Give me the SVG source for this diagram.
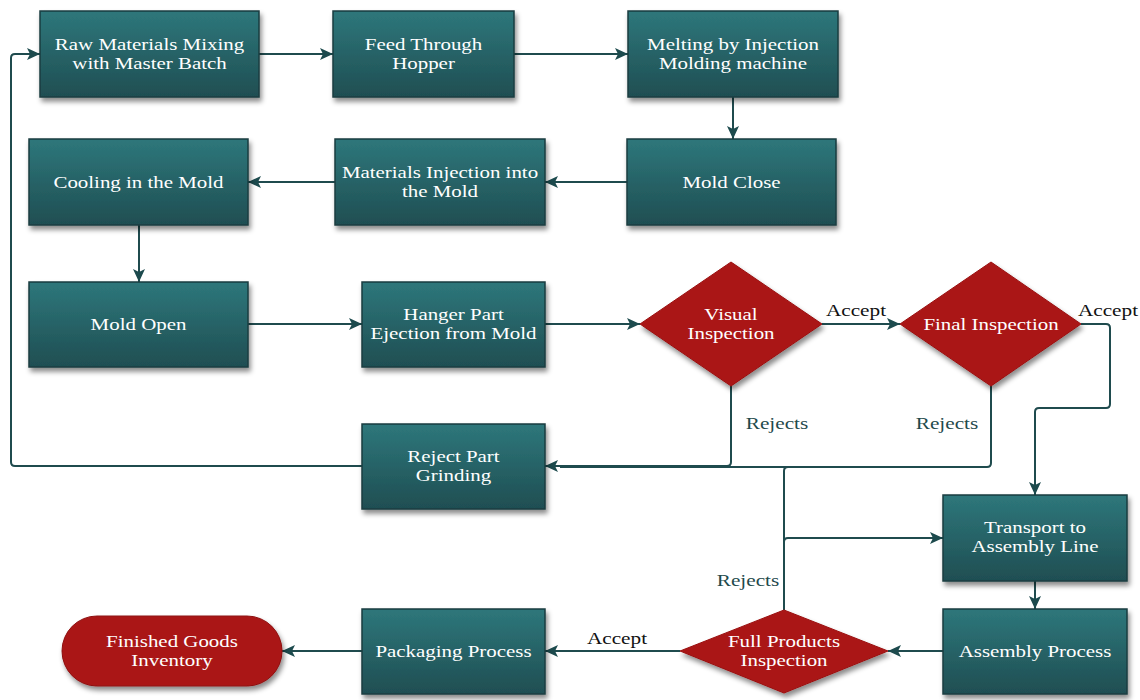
<svg xmlns="http://www.w3.org/2000/svg" width="1140" height="700" viewBox="0 0 1140 700">
<defs>
<linearGradient id="boxg" x1="0" y1="0" x2="0" y2="1">
<stop offset="0" stop-color="#2e777b"/>
<stop offset="1" stop-color="#1f4e52"/>
</linearGradient>
<filter id="sh" x="-10%" y="-10%" width="130%" height="140%">
<feDropShadow dx="2" dy="4" stdDeviation="2.5" flood-color="#000" flood-opacity="0.45"/>
</filter>
<marker id="arr" markerUnits="userSpaceOnUse" markerWidth="14" markerHeight="12" refX="13" refY="6" orient="auto">
<path d="M0,0 L13,6 L0,12 L3,6 Z" fill="#1c4a4d"/>
</marker>
<style>
.box{fill:url(#boxg);stroke:#1b3d40;stroke-width:1.5;filter:url(#sh)}
.dia{fill:#aa1515;stroke:#9a1212;stroke-width:1;filter:url(#sh)}
.t{font-family:'Liberation Serif','DejaVu Serif',serif;font-size:17px;fill:#ffffff;text-anchor:middle}
.c{fill:none;stroke:#1f4b4e;stroke-width:2;stroke-linejoin:round}
.lab{font-family:'Liberation Serif','DejaVu Serif',serif;font-size:17px;text-anchor:middle}
.acc{fill:#111111}
.rej{fill:#1f4a4c}
</style>
</defs>
<rect width="1140" height="700" fill="#ffffff"/>

<g id="connectors">
<path class="c" d="M259,54 H333" marker-end="url(#arr)"/>
<path class="c" d="M514,54 H628" marker-end="url(#arr)"/>
<path class="c" d="M733,97 V139" marker-end="url(#arr)"/>
<path class="c" d="M627,182 H545" marker-end="url(#arr)"/>
<path class="c" d="M335,182 H248" marker-end="url(#arr)"/>
<path class="c" d="M139,225 V282" marker-end="url(#arr)"/>
<path class="c" d="M248,324 H362" marker-end="url(#arr)"/>
<path class="c" d="M545,324 H640" marker-end="url(#arr)"/>
<path class="c" d="M822,324 H900" marker-end="url(#arr)"/>
<path class="c" d="M1081,324 H1106 Q1110,324 1110,328 V404 Q1110,408 1106,408 H1039 Q1035,408 1035,412 V495" marker-end="url(#arr)"/>
<path class="c" d="M991,386 V463 Q991,467 987,467 H788 Q784,467 784,471 V610"/>
<path class="c" d="M788,467 H560"/>
<path class="c" d="M784,542 Q784,538 788,538 H943" marker-end="url(#arr)"/>
<path class="c" d="M731,386 V462 Q731,466 727,466 H545" marker-end="url(#arr)"/>
<path class="c" d="M362,466 H15 Q11,466 11,462 V58 Q11,54 15,54 H40" marker-end="url(#arr)"/>
<path class="c" d="M1035,581 V609" marker-end="url(#arr)"/>
<path class="c" d="M943,651 H888" marker-end="url(#arr)"/>
<path class="c" d="M680,651 H545" marker-end="url(#arr)"/>
<path class="c" d="M362,651 H282" marker-end="url(#arr)"/>
<text class="lab acc" transform="matrix(1.25 0 0 1 856 316)">Accept</text>
<text class="lab acc" transform="matrix(1.25 0 0 1 1108 316)">Accept</text>
<text class="lab rej" transform="matrix(1.25 0 0 1 777 429)">Rejects</text>
<text class="lab rej" transform="matrix(1.25 0 0 1 947 429)">Rejects</text>
<text class="lab rej" transform="matrix(1.25 0 0 1 748 586)">Rejects</text>
<text class="lab acc" transform="matrix(1.25 0 0 1 617 644)">Accept</text>
</g>

<g id="n-raw">
<rect class="box" x="40" y="11" width="219" height="86"/>
<text class="t" transform="matrix(1.23 0 0 1 149.5 50)">Raw Materials Mixing</text>
<text class="t" transform="matrix(1.23 0 0 1 149.5 69)">with Master Batch</text>
</g>
<g id="n-feed">
<rect class="box" x="333" y="11" width="181" height="86"/>
<text class="t" transform="matrix(1.23 0 0 1 423.5 50)">Feed Through</text>
<text class="t" transform="matrix(1.23 0 0 1 423.5 69)">Hopper</text>
</g>
<g id="n-melt">
<rect class="box" x="628" y="11" width="210" height="86"/>
<text class="t" transform="matrix(1.23 0 0 1 733 50)">Melting by Injection</text>
<text class="t" transform="matrix(1.23 0 0 1 733 69)">Molding machine</text>
</g>
<g id="n-cool">
<rect class="box" x="29" y="139" width="219" height="86"/>
<text class="t" transform="matrix(1.23 0 0 1 138.5 188)">Cooling in the Mold</text>
</g>
<g id="n-inject">
<rect class="box" x="335" y="139" width="210" height="86"/>
<text class="t" transform="matrix(1.23 0 0 1 440 178)">Materials Injection into</text>
<text class="t" transform="matrix(1.23 0 0 1 440 197)">the Mold</text>
</g>
<g id="n-close">
<rect class="box" x="627" y="139" width="209" height="86"/>
<text class="t" transform="matrix(1.23 0 0 1 731.5 188)">Mold Close</text>
</g>
<g id="n-open">
<rect class="box" x="29" y="282" width="219" height="85"/>
<text class="t" transform="matrix(1.23 0 0 1 138.5 330)">Mold Open</text>
</g>
<g id="n-hanger">
<rect class="box" x="362" y="282" width="183" height="85"/>
<text class="t" transform="matrix(1.23 0 0 1 453.5 320)">Hanger Part</text>
<text class="t" transform="matrix(1.23 0 0 1 453.5 339)">Ejection from Mold</text>
</g>
<g id="n-visual">
<polygon class="dia" points="731,262 822,324 731,386 640,324"/>
<text class="t" transform="matrix(1.23 0 0 1 731 320)">Visual</text>
<text class="t" transform="matrix(1.23 0 0 1 731 339)">Inspection</text>
</g>
<g id="n-final">
<polygon class="dia" points="991,262 1081,324 991,386 900,324"/>
<text class="t" transform="matrix(1.23 0 0 1 991 330)">Final Inspection</text>
</g>
<g id="n-grind">
<rect class="box" x="362" y="424" width="183" height="85"/>
<text class="t" transform="matrix(1.23 0 0 1 453.5 462)">Reject Part</text>
<text class="t" transform="matrix(1.23 0 0 1 453.5 481)">Grinding</text>
</g>
<g id="n-transport">
<rect class="box" x="943" y="495" width="184" height="86"/>
<text class="t" transform="matrix(1.23 0 0 1 1035 533)">Transport to</text>
<text class="t" transform="matrix(1.23 0 0 1 1035 552)">Assembly Line</text>
</g>
<g id="n-assembly">
<rect class="box" x="943" y="609" width="184" height="85"/>
<text class="t" transform="matrix(1.23 0 0 1 1035 657)">Assembly Process</text>
</g>
<g id="n-full">
<polygon class="dia" points="784,610 888,651 784,693 680,651"/>
<text class="t" transform="matrix(1.23 0 0 1 784 647)">Full Products</text>
<text class="t" transform="matrix(1.23 0 0 1 784 666)">Inspection</text>
</g>
<g id="n-pack">
<rect class="box" x="362" y="609" width="183" height="85"/>
<text class="t" transform="matrix(1.23 0 0 1 453.5 657)">Packaging Process</text>
</g>
<g id="n-finished">
<rect x="62" y="616" width="220" height="70" rx="35" ry="35" fill="#aa1515" stroke="#8e1111" stroke-width="1" filter="url(#sh)"/>
<text class="t" transform="matrix(1.23 0 0 1 172 647)">Finished Goods</text>
<text class="t" transform="matrix(1.23 0 0 1 172 666)">Inventory</text>
</g>
</svg>
